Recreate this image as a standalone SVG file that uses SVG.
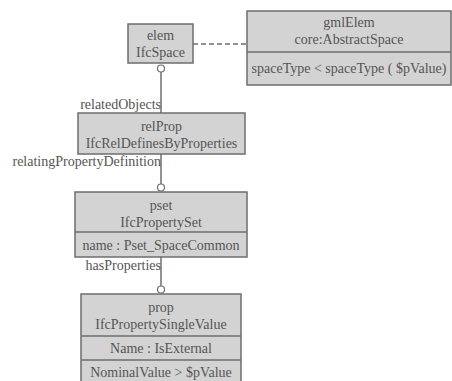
<svg xmlns="http://www.w3.org/2000/svg" width="452" height="381" viewBox="0 0 452 381" font-family="Liberation Serif, DejaVu Serif, serif">
<style>
.box{fill:#d3d3d3;stroke:#6e6e6e;stroke-width:1.5}
.div{stroke:#6e6e6e;stroke-width:1.5}
.t{font-size:14px;fill:#555}
.c{text-anchor:middle}
.r{text-anchor:end}
.ln{stroke:#6e6e6e;stroke-width:1.5;fill:none}
.circ{fill:#fff;stroke:#6e6e6e;stroke-width:1.2}
</style>
<rect width="452" height="381" fill="#fff"/>
<g id="connectors" class="t" style="font-family:'Liberation Serif','DejaVu Serif',serif">
<line class="ln" x1="193" y1="44" x2="247" y2="44" stroke-dasharray="5,3"/>
<line class="ln" x1="161" y1="72" x2="161" y2="113"/>
<circle class="circ" cx="161" cy="68.5" r="3.5"/>
<text class="r" x="161" y="109">relatedObjects</text>
<line class="ln" x1="161" y1="154" x2="161" y2="184"/>
<circle class="circ" cx="161" cy="187.5" r="3.5"/>
<text class="r" x="161" y="166">relatingPropertyDefinition</text>
<line class="ln" x1="161" y1="257" x2="161" y2="286"/>
<circle class="circ" cx="161" cy="289.5" r="3.5"/>
<text class="r" x="161" y="270">hasProperties</text>
</g>
<g id="elem" class="t" style="font-family:'Liberation Serif','DejaVu Serif',serif">
<rect class="box" x="128" y="24" width="65" height="39"/>
<text class="c" x="160.5" y="40">elem</text>
<text class="c" x="160.5" y="57">IfcSpace</text>
</g>
<g id="gmlElem" class="t" style="font-family:'Liberation Serif','DejaVu Serif',serif">
<rect class="box" x="247" y="11" width="204" height="74"/>
<line class="div" x1="247" y1="52" x2="451" y2="52"/>
<text class="c" x="349" y="27">gmlElem</text>
<text class="c" x="349" y="44">core:AbstractSpace</text>
<text class="c" x="349" y="73">spaceType &lt; spaceType ( $pValue)</text>
</g>
<g id="relProp" class="t" style="font-family:'Liberation Serif','DejaVu Serif',serif">
<rect class="box" x="78" y="113" width="167" height="41"/>
<text class="c" x="161.5" y="131">relProp</text>
<text class="c" x="161.5" y="148">IfcRelDefinesByProperties</text>
</g>
<g id="pset" class="t" style="font-family:'Liberation Serif','DejaVu Serif',serif">
<rect class="box" x="75" y="192" width="172" height="65"/>
<line class="div" x1="75" y1="232" x2="247" y2="232"/>
<text class="c" x="161" y="210">pset</text>
<text class="c" x="161" y="227">IfcPropertySet</text>
<text class="c" x="161" y="250">name : Pset_SpaceCommon</text>
</g>
<g id="prop" class="t" style="font-family:'Liberation Serif','DejaVu Serif',serif">
<rect class="box" x="81" y="294" width="160" height="95"/>
<line class="div" x1="81" y1="336" x2="241" y2="336"/>
<line class="div" x1="81" y1="360" x2="241" y2="360"/>
<text class="c" x="161" y="312">prop</text>
<text class="c" x="161" y="329">IfcPropertySingleValue</text>
<text class="c" x="161" y="353">Name : IsExternal</text>
<text class="c" x="161" y="377">NominalValue &gt; $pValue</text>
</g>
</svg>
